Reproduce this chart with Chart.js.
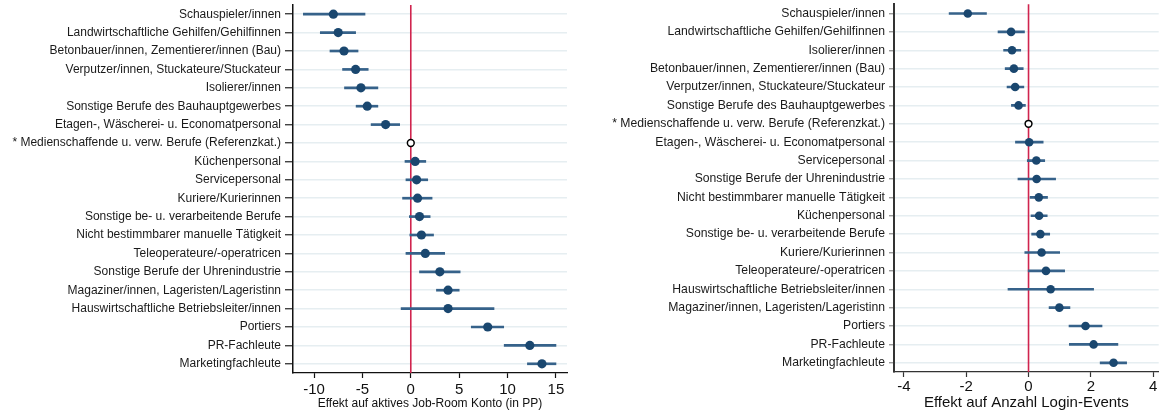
<!DOCTYPE html>
<html>
<head>
<meta charset="utf-8">
<script src="https://cdn.jsdelivr.net/npm/chart.js@4/dist/chart.umd.min.js"></script>
<style>
  html, body { margin: 0; padding: 0; background: #fff; overflow: hidden; }
  #wrap { position: relative; width: 1163px; height: 414px; }
  canvas { position: absolute; top: 0; }
  #left { left: 0; }
  #right { left: 600px; }
</style>
</head>
<body>
<div id="wrap">
  <canvas id="left" width="580" height="414"></canvas>
  <canvas id="right" width="563" height="414"></canvas>
</div>
<script>
// Reference category (effect fixed at zero, drawn as a hollow marker)
const refCategory = '* Medienschaffende u. verw. Berufe (Referenzkat.)';
const refValue = 0;

// Left panel: effect on active Job-Room account (percentage points)
const leftCategories = [
  'Schauspieler/innen',
  'Landwirtschaftliche Gehilfen/Gehilfinnen',
  'Betonbauer/innen, Zementierer/innen (Bau)',
  'Verputzer/innen, Stuckateure/Stuckateur',
  'Isolierer/innen',
  'Sonstige Berufe des Bauhauptgewerbes',
  'Etagen-, Wäscherei- u. Economatpersonal',
  refCategory,
  'Küchenpersonal',
  'Servicepersonal',
  'Kuriere/Kurierinnen',
  'Sonstige be- u. verarbeitende Berufe',
  'Nicht bestimmbarer manuelle Tätigkeit',
  'Teleoperateure/-operatricen',
  'Sonstige Berufe der Uhrenindustrie',
  'Magaziner/innen, Lageristen/Lageristinn',
  'Hauswirtschaftliche Betriebsleiter/innen',
  'Portiers',
  'PR-Fachleute',
  'Marketingfachleute'
];
const leftEstimate = [-8.0, -7.5, -6.9, -5.7, -5.15, -4.5, -2.6, 0, 0.45, 0.6, 0.7, 0.9, 1.1, 1.5, 3.0, 3.85, 3.85, 7.95, 12.3, 13.55];
const leftLower    = [-11.1, -9.35, -8.35, -7.05, -6.85, -5.65, -4.1, null, -0.6, -0.5, -0.85, -0.15, -0.1, -0.5, 0.9, 2.65, -1.0, 6.25, 9.65, 12.05];
const leftUpper    = [-4.73, -5.7, -5.45, -4.4, -3.4, -3.4, -1.15, null, 1.55, 1.75, 2.2, 2.0, 2.35, 3.5, 5.1, 5.0, 8.6, 9.6, 15.0, 15.0];
const leftTicks    = [-10, -5, 0, 5, 10, 15];

// Right panel: effect on number of login events
const rightCategories = [
  'Schauspieler/innen',
  'Landwirtschaftliche Gehilfen/Gehilfinnen',
  'Isolierer/innen',
  'Betonbauer/innen, Zementierer/innen (Bau)',
  'Verputzer/innen, Stuckateure/Stuckateur',
  'Sonstige Berufe des Bauhauptgewerbes',
  refCategory,
  'Etagen-, Wäscherei- u. Economatpersonal',
  'Servicepersonal',
  'Sonstige Berufe der Uhrenindustrie',
  'Nicht bestimmbarer manuelle Tätigkeit',
  'Küchenpersonal',
  'Sonstige be- u. verarbeitende Berufe',
  'Kuriere/Kurierinnen',
  'Teleoperateure/-operatricen',
  'Hauswirtschaftliche Betriebsleiter/innen',
  'Magaziner/innen, Lageristen/Lageristinn',
  'Portiers',
  'PR-Fachleute',
  'Marketingfachleute'
];
const rightEstimate = [-1.95, -0.56, -0.53, -0.47, -0.43, -0.32, 0, 0.02, 0.25, 0.26, 0.33, 0.34, 0.38, 0.42, 0.56, 0.71, 0.99, 1.83, 2.09, 2.73];
const rightLower    = [-2.55, -0.98, -0.8, -0.75, -0.69, -0.55, null, -0.42, -0.04, -0.34, 0.05, 0.08, 0.1, -0.12, -0.01, -0.66, 0.66, 1.3, 1.31, 2.3];
const rightUpper    = [-1.35, -0.13, -0.25, -0.17, -0.15, -0.1, null, 0.47, 0.52, 0.87, 0.61, 0.6, 0.68, 1.0, 1.16, 2.09, 1.33, 2.36, 2.87, 3.15];
const rightTicks    = [-4, -2, 0, 2, 4];

const NAVY = '#1a476f';
const CI_COLOR = '#36628a';
const GRID = '#e6eef1';
const ZERO_LINE = '#d0244e';
const FONT = "'Liberation Sans', Arial, sans-serif";

// Vertical line at the reference effect, drawn under the markers
const zeroLinePlugin = {
  id: 'zeroLine',
  beforeDatasetsDraw(chart) {
    const { ctx, chartArea, scales } = chart;
    const x = scales.x.getPixelForValue(refValue);
    ctx.save();
    ctx.strokeStyle = ZERO_LINE;
    ctx.lineWidth = 1.6;
    ctx.beginPath();
    ctx.moveTo(x, chartArea.top);
    ctx.lineTo(x, chartArea.bottom);
    ctx.stroke();
    ctx.restore();
  }
};

function buildChart(id, p) {
  const refIdx = p.categories.indexOf(refCategory);
  const ci = p.lower.map((lo, i) => (lo === null ? null : [lo, p.upper[i]]));
  return new Chart(document.getElementById(id), {
    type: 'bar',
    data: {
      labels: p.categories,
      datasets: [
        {
          type: 'line',
          indexAxis: 'y',
          data: p.estimate,
          showLine: false,
          order: 0,
          pointRadius: ctx => (ctx.dataIndex === refIdx ? p.refRadius : p.dotRadius),
          pointBackgroundColor: ctx => (ctx.dataIndex === refIdx ? '#ffffff' : NAVY),
          pointBorderColor: ctx => (ctx.dataIndex === refIdx ? '#000000' : NAVY),
          pointBorderWidth: ctx => (ctx.dataIndex === refIdx ? 1.5 : 0)
        },
        {
          type: 'bar',
          indexAxis: 'y',
          data: ci,
          order: 1,
          barThickness: 2,
          backgroundColor: CI_COLOR,
          borderWidth: 0
        }
      ]
    },
    options: {
      indexAxis: 'y',
      responsive: false,
      animation: false,
      devicePixelRatio: 1,
      layout: { padding: p.padding },
      plugins: { legend: { display: false }, tooltip: { enabled: false } },
      scales: {
        x: {
          type: 'linear',
          min: p.min,
          max: p.max,
          afterBuildTicks: s => { s.ticks = p.ticks.map(v => ({ value: v })); },
          afterFit: s => { s.height = p.xHeight; s.paddingLeft = 0; s.paddingRight = 0; },
          border: { display: true, color: p.axisColor, width: 1.2 },
          grid: { drawOnChartArea: false, drawTicks: true, tickLength: 5, tickColor: p.axisColor, tickWidth: 1.2 },
          ticks: { color: '#111', font: { family: FONT, size: 15 }, padding: p.xTickPad, maxRotation: 0 },
          title: { display: true, text: p.title, color: '#111', font: { family: FONT, size: p.titleSize }, padding: { top: 0, bottom: p.titlePad } }
        },
        y: {
          type: 'category',
          offset: true,
          afterFit: s => { s.width = p.yWidth; s.paddingTop = 0; s.paddingBottom = 0; },
          border: { display: true, color: p.axisColor, width: p.yAxisWidth },
          grid: { offset: false, color: GRID, lineWidth: 1.5, drawTicks: true, tickLength: p.yTickLen, tickColor: p.yTickColor, tickWidth: 1.2 },
          ticks: { color: '#1a1a1a', font: { family: FONT, size: p.labelSize }, padding: p.yTickPad, autoSkip: false }
        }
      }
    },
    plugins: [zeroLinePlugin]
  });
}

buildChart('left', {
  categories: leftCategories, estimate: leftEstimate, lower: leftLower, upper: leftUpper, ticks: leftTicks,
  min: -12.17, max: 16.14,
  title: 'Effekt auf aktives Job-Room Konto (in PP)', titleSize: 12, titlePad: 3,
  padding: { top: 5, right: 13, left: 0, bottom: 0 },
  xHeight: 41, xTickPad: 3, yWidth: 293, yTickLen: 8, yTickPad: 4, labelSize: 12,
  yTickColor: '#222', axisColor: '#111', yAxisWidth: 1.5,
  dotRadius: 4.6, refRadius: 3.4
});

buildChart('right', {
  categories: rightCategories, estimate: rightEstimate, lower: rightLower, upper: rightUpper, ticks: rightTicks,
  min: -4.32, max: 4.18,
  title: 'Effekt auf Anzahl Login-Events', titleSize: 15, titlePad: 2,
  padding: { top: 4, right: 0, left: 0, bottom: 0 },
  xHeight: 42, xTickPad: 1, yWidth: 294, yTickLen: 5, yTickPad: 4, labelSize: 12.2,
  yTickColor: '#888', axisColor: '#333', yAxisWidth: 2,
  dotRadius: 4.3, refRadius: 3.4
});
</script>
</body>
</html>
